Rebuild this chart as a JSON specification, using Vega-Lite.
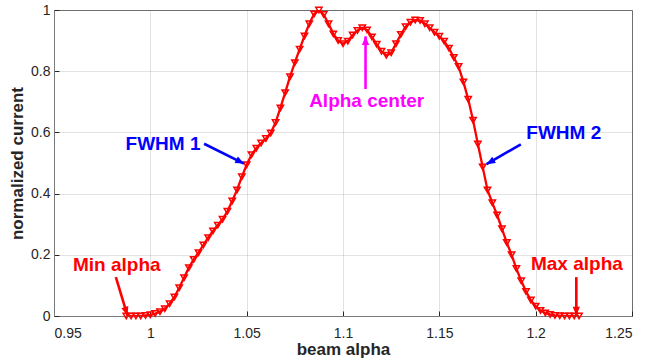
{
  "$schema": "https://vega.github.io/schema/vega-lite/v6.json",
  "width": 578,
  "height": 306,
  "autosize": "none",
  "padding": {"left": 54, "top": 10, "right": 16, "bottom": 44},
  "background": "white",
  "config": {
    "font": "Liberation Sans",
    "view": {"stroke": "#7a7a7a", "strokeWidth": 1},
    "axis": {
      "labelFont": "Liberation Sans",
      "titleFont": "Liberation Sans",
      "labelColor": "#262626",
      "titleColor": "#262626",
      "labelFontSize": 14,
      "titleFontSize": 17,
      "titleFontWeight": "bold",
      "domainColor": "#7a7a7a",
      "tickColor": "#262626",
      "gridColor": "#262626",
      "gridOpacity": 0.13,
      "tickSize": -5
    },
    "axisX": {"labelPadding": 15, "titlePadding": 1},
    "axisY": {"labelPadding": 9, "titlePadding": 4}
  },
  "datasets": {
    "curve": [
      {"alpha": 0.9875, "current": 0.0},
      {"alpha": 0.99, "current": 0.0},
      {"alpha": 0.9925, "current": 0.0},
      {"alpha": 0.995, "current": 0.0},
      {"alpha": 0.9975, "current": 0.002},
      {"alpha": 1.0, "current": 0.004},
      {"alpha": 1.0025, "current": 0.008},
      {"alpha": 1.005, "current": 0.014},
      {"alpha": 1.0075, "current": 0.024},
      {"alpha": 1.01, "current": 0.04},
      {"alpha": 1.0125, "current": 0.062},
      {"alpha": 1.015, "current": 0.092},
      {"alpha": 1.0175, "current": 0.125},
      {"alpha": 1.02, "current": 0.158},
      {"alpha": 1.0225, "current": 0.185},
      {"alpha": 1.025, "current": 0.207},
      {"alpha": 1.0275, "current": 0.232},
      {"alpha": 1.03, "current": 0.256},
      {"alpha": 1.0325, "current": 0.278},
      {"alpha": 1.035, "current": 0.297},
      {"alpha": 1.0375, "current": 0.316},
      {"alpha": 1.04, "current": 0.342},
      {"alpha": 1.0425, "current": 0.376},
      {"alpha": 1.045, "current": 0.412},
      {"alpha": 1.0475, "current": 0.455},
      {"alpha": 1.05, "current": 0.494},
      {"alpha": 1.0525, "current": 0.527},
      {"alpha": 1.055, "current": 0.548},
      {"alpha": 1.0575, "current": 0.565},
      {"alpha": 1.06, "current": 0.58},
      {"alpha": 1.0625, "current": 0.598},
      {"alpha": 1.065, "current": 0.632},
      {"alpha": 1.0675, "current": 0.68},
      {"alpha": 1.07, "current": 0.73},
      {"alpha": 1.0725, "current": 0.782},
      {"alpha": 1.075, "current": 0.828},
      {"alpha": 1.0775, "current": 0.872},
      {"alpha": 1.08, "current": 0.915},
      {"alpha": 1.0825, "current": 0.955},
      {"alpha": 1.085, "current": 0.987},
      {"alpha": 1.0875, "current": 1.0},
      {"alpha": 1.09, "current": 0.985},
      {"alpha": 1.0925, "current": 0.955},
      {"alpha": 1.095, "current": 0.922},
      {"alpha": 1.0975, "current": 0.9},
      {"alpha": 1.1, "current": 0.89},
      {"alpha": 1.1025, "current": 0.898},
      {"alpha": 1.105, "current": 0.918},
      {"alpha": 1.1075, "current": 0.933},
      {"alpha": 1.11, "current": 0.942},
      {"alpha": 1.1125, "current": 0.935},
      {"alpha": 1.115, "current": 0.912},
      {"alpha": 1.1175, "current": 0.888},
      {"alpha": 1.12, "current": 0.865},
      {"alpha": 1.1225, "current": 0.852},
      {"alpha": 1.125, "current": 0.86},
      {"alpha": 1.1275, "current": 0.89},
      {"alpha": 1.13, "current": 0.92},
      {"alpha": 1.1325, "current": 0.945},
      {"alpha": 1.135, "current": 0.96},
      {"alpha": 1.1375, "current": 0.967},
      {"alpha": 1.14, "current": 0.966},
      {"alpha": 1.1425, "current": 0.955},
      {"alpha": 1.145, "current": 0.942},
      {"alpha": 1.1475, "current": 0.927},
      {"alpha": 1.15, "current": 0.914},
      {"alpha": 1.1525, "current": 0.898},
      {"alpha": 1.155, "current": 0.875},
      {"alpha": 1.1575, "current": 0.845},
      {"alpha": 1.16, "current": 0.815},
      {"alpha": 1.1625, "current": 0.765},
      {"alpha": 1.165, "current": 0.708},
      {"alpha": 1.1675, "current": 0.64},
      {"alpha": 1.17, "current": 0.562},
      {"alpha": 1.1725, "current": 0.487},
      {"alpha": 1.175, "current": 0.412},
      {"alpha": 1.1775, "current": 0.37},
      {"alpha": 1.18, "current": 0.33},
      {"alpha": 1.1825, "current": 0.285},
      {"alpha": 1.185, "current": 0.24},
      {"alpha": 1.1875, "current": 0.2},
      {"alpha": 1.19, "current": 0.155},
      {"alpha": 1.1925, "current": 0.115},
      {"alpha": 1.195, "current": 0.08},
      {"alpha": 1.1975, "current": 0.052},
      {"alpha": 1.2, "current": 0.032},
      {"alpha": 1.2025, "current": 0.018},
      {"alpha": 1.205, "current": 0.01},
      {"alpha": 1.2075, "current": 0.005},
      {"alpha": 1.21, "current": 0.002},
      {"alpha": 1.2125, "current": 0.001},
      {"alpha": 1.215, "current": 0.0},
      {"alpha": 1.2175, "current": 0.0},
      {"alpha": 1.22, "current": 0.0},
      {"alpha": 1.2225, "current": 0.0}
    ],
    "notes": [
      {"label": "Min alpha", "group": "limit", "tx": 0.9826, "ty": 0.166, "x1": 0.9821, "y1": 0.127, "x2": 0.9881, "y2": 0.002},
      {"label": "Max alpha", "group": "limit", "tx": 1.2214, "ty": 0.169, "x1": 1.2211, "y1": 0.127, "x2": 1.2211, "y2": 0.002},
      {"label": "FWHM 1", "group": "fwhm", "tx": 1.0066, "ty": 0.561, "x1": 1.0279, "y1": 0.563, "x2": 1.0486, "y2": 0.498},
      {"label": "FWHM 2", "group": "fwhm", "tx": 1.2146, "ty": 0.599, "x1": 1.1923, "y1": 0.561, "x2": 1.1745, "y2": 0.496},
      {"label": "Alpha center", "group": "center", "tx": 1.1123, "ty": 0.703, "x1": 1.1117, "y1": 0.742, "x2": 1.1117, "y2": 0.914}
    ]
  },
  "layer": [
    {
      "data": {"name": "curve"},
      "mark": {"type": "line", "color": "#ff0000", "strokeWidth": 2.3, "clip": true},
      "encoding": {
        "x": {"field": "alpha", "type": "quantitative", "scale": {"domain": [0.95, 1.25], "nice": false, "zero": false},
          "axis": {"orient": "bottom", "title": "beam alpha", "values": [0.95, 1, 1.05, 1.1, 1.15, 1.2, 1.25], "format": "~g", "grid": true}},
        "y": {"field": "current", "type": "quantitative", "scale": {"domain": [0, 1], "nice": false},
          "axis": {"orient": "left", "title": "normalized current", "values": [0, 0.2, 0.4, 0.6, 0.8, 1], "format": "~g", "grid": true}}
      }
    },
    {
      "data": {"name": "curve"},
      "mark": {"type": "point", "shape": "triangle-down", "filled": false, "color": "#ff0000", "strokeWidth": 1.5, "size": 40, "opacity": 1},
      "encoding": {
        "x": {"field": "alpha", "type": "quantitative",
          "axis": {"orient": "bottom", "title": "beam alpha", "values": [0.95, 1, 1.05, 1.1, 1.15, 1.2, 1.25], "format": "~g", "grid": true}},
        "y": {"field": "current", "type": "quantitative",
          "axis": {"orient": "left", "title": "normalized current", "values": [0, 0.2, 0.4, 0.6, 0.8, 1], "format": "~g", "grid": true}}
      }
    },
    {
      "data": {"name": "notes"},
      "mark": {"type": "rule", "strokeWidth": 2.6},
      "encoding": {
        "x": {"field": "x1", "type": "quantitative",
          "axis": {"orient": "bottom", "title": "beam alpha", "values": [0.95, 1, 1.05, 1.1, 1.15, 1.2, 1.25], "format": "~g", "grid": true}},
        "y": {"field": "y1", "type": "quantitative",
          "axis": {"orient": "left", "title": "normalized current", "values": [0, 0.2, 0.4, 0.6, 0.8, 1], "format": "~g", "grid": true}},
        "x2": {"field": "x2"},
        "y2": {"field": "y2"},
        "color": {"field": "group", "type": "nominal", "scale": {"domain": ["limit", "fwhm", "center"], "range": ["#ff0000", "#0000ff", "#ff00ff"]}, "legend": null}
      }
    },
    {
      "data": {"name": "notes"},
      "transform": [{"filter": "datum.label === 'Min alpha'"}],
      "mark": {"type": "point", "shape": "M0,0L-0.42,1L0.42,1Z", "filled": true, "size": 300, "opacity": 1, "angle": 163},
      "encoding": {
        "x": {"field": "x2", "type": "quantitative",
          "axis": {"orient": "bottom", "title": "beam alpha", "values": [0.95, 1, 1.05, 1.1, 1.15, 1.2, 1.25], "format": "~g", "grid": true}},
        "y": {"field": "y2", "type": "quantitative",
          "axis": {"orient": "left", "title": "normalized current", "values": [0, 0.2, 0.4, 0.6, 0.8, 1], "format": "~g", "grid": true}},
        "color": {"field": "group", "type": "nominal", "legend": null}
      }
    },
    {
      "data": {"name": "notes"},
      "transform": [{"filter": "datum.label === 'Max alpha'"}],
      "mark": {"type": "point", "shape": "M0,0L-0.42,1L0.42,1Z", "filled": true, "size": 300, "opacity": 1, "angle": 180},
      "encoding": {
        "x": {"field": "x2", "type": "quantitative",
          "axis": {"orient": "bottom", "title": "beam alpha", "values": [0.95, 1, 1.05, 1.1, 1.15, 1.2, 1.25], "format": "~g", "grid": true}},
        "y": {"field": "y2", "type": "quantitative",
          "axis": {"orient": "left", "title": "normalized current", "values": [0, 0.2, 0.4, 0.6, 0.8, 1], "format": "~g", "grid": true}},
        "color": {"field": "group", "type": "nominal", "legend": null}
      }
    },
    {
      "data": {"name": "notes"},
      "transform": [{"filter": "datum.label === 'FWHM 1'"}],
      "mark": {"type": "point", "shape": "M0,0L-0.42,1L0.42,1Z", "filled": true, "size": 300, "opacity": 1, "angle": 116.6},
      "encoding": {
        "x": {"field": "x2", "type": "quantitative",
          "axis": {"orient": "bottom", "title": "beam alpha", "values": [0.95, 1, 1.05, 1.1, 1.15, 1.2, 1.25], "format": "~g", "grid": true}},
        "y": {"field": "y2", "type": "quantitative",
          "axis": {"orient": "left", "title": "normalized current", "values": [0, 0.2, 0.4, 0.6, 0.8, 1], "format": "~g", "grid": true}},
        "color": {"field": "group", "type": "nominal", "legend": null}
      }
    },
    {
      "data": {"name": "notes"},
      "transform": [{"filter": "datum.label === 'FWHM 2'"}],
      "mark": {"type": "point", "shape": "M0,0L-0.42,1L0.42,1Z", "filled": true, "size": 300, "opacity": 1, "angle": 239.8},
      "encoding": {
        "x": {"field": "x2", "type": "quantitative",
          "axis": {"orient": "bottom", "title": "beam alpha", "values": [0.95, 1, 1.05, 1.1, 1.15, 1.2, 1.25], "format": "~g", "grid": true}},
        "y": {"field": "y2", "type": "quantitative",
          "axis": {"orient": "left", "title": "normalized current", "values": [0, 0.2, 0.4, 0.6, 0.8, 1], "format": "~g", "grid": true}},
        "color": {"field": "group", "type": "nominal", "legend": null}
      }
    },
    {
      "data": {"name": "notes"},
      "transform": [{"filter": "datum.label === 'Alpha center'"}],
      "mark": {"type": "point", "shape": "M0,0L-0.42,1L0.42,1Z", "filled": true, "size": 300, "opacity": 1, "angle": 0},
      "encoding": {
        "x": {"field": "x2", "type": "quantitative",
          "axis": {"orient": "bottom", "title": "beam alpha", "values": [0.95, 1, 1.05, 1.1, 1.15, 1.2, 1.25], "format": "~g", "grid": true}},
        "y": {"field": "y2", "type": "quantitative",
          "axis": {"orient": "left", "title": "normalized current", "values": [0, 0.2, 0.4, 0.6, 0.8, 1], "format": "~g", "grid": true}},
        "color": {"field": "group", "type": "nominal", "legend": null}
      }
    },
    {
      "data": {"name": "notes"},
      "mark": {"type": "text", "font": "Liberation Sans", "fontWeight": "bold", "fontSize": 19, "align": "center", "baseline": "middle"},
      "encoding": {
        "x": {"field": "tx", "type": "quantitative",
          "axis": {"orient": "bottom", "title": "beam alpha", "values": [0.95, 1, 1.05, 1.1, 1.15, 1.2, 1.25], "format": "~g", "grid": true}},
        "y": {"field": "ty", "type": "quantitative",
          "axis": {"orient": "left", "title": "normalized current", "values": [0, 0.2, 0.4, 0.6, 0.8, 1], "format": "~g", "grid": true}},
        "text": {"field": "label"},
        "color": {"field": "group", "type": "nominal", "legend": null}
      }
    }
  ]
}
